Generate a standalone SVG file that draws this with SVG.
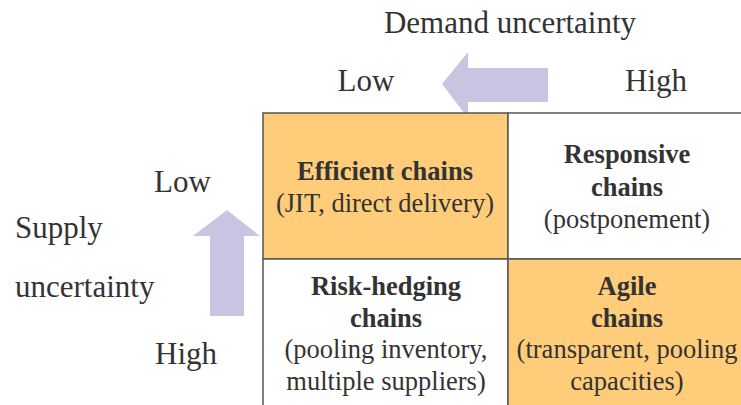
<svg xmlns="http://www.w3.org/2000/svg" width="741" height="405" viewBox="0 0 741 405">
<style>
text{font-family:"Liberation Serif","Times New Roman",serif;fill:#333;}
.ax{font-size:31px;}
.t{font-size:26.5px;text-anchor:middle;}
.b{font-weight:bold;}
.cell{stroke:#555;stroke-width:1.5;}
.arrow{fill:#C8C5E2;}
</style>
<rect width="741" height="405" fill="#fff"/>
<g id="axes">
<text class="ax" x="510" y="33" text-anchor="middle">Demand uncertainty</text>
<text class="ax" x="366" y="91" text-anchor="middle">Low</text>
<text class="ax" x="656" y="91" text-anchor="middle">High</text>
<text class="ax" x="154" y="192">Low</text>
<text class="ax" x="15" y="238">Supply</text>
<text class="ax" x="15" y="297">uncertainty</text>
<text class="ax" x="155" y="364">High</text>
</g>
<g id="connectors">
<polygon class="arrow" points="548,68 468,68 468,52 442,84 468,118 468,102 548,102"/>
<polygon class="arrow" points="210,316 210,236 193,236 227,210 260,236 244,236 244,316"/>
</g>
<g id="efficient">
<rect class="cell" x="263" y="113" width="245" height="146" fill="#FFCC7A"/>
<text class="t b" x="385" y="180">Efficient chains</text>
<text class="t" x="385" y="212">(JIT, direct delivery)</text>
</g>
<g id="responsive">
<rect class="cell" x="508" y="113" width="240" height="146" fill="#fff"/>
<text class="t b" x="627" y="163">Responsive</text>
<text class="t b" x="627" y="196">chains</text>
<text class="t" x="627" y="228">(postponement)</text>
</g>
<g id="riskhedging">
<rect class="cell" x="263" y="259" width="245" height="160" fill="#fff"/>
<text class="t b" x="386" y="295">Risk-hedging</text>
<text class="t b" x="386" y="327">chains</text>
<text class="t" x="386" y="358">(pooling inventory,</text>
<text class="t" x="386" y="390">multiple suppliers)</text>
</g>
<g id="agile">
<rect class="cell" x="508" y="259" width="240" height="160" fill="#FFCC7A"/>
<text class="t b" x="627" y="295">Agile</text>
<text class="t b" x="627" y="327">chains</text>
<text class="t" x="627" y="358">(transparent, pooling</text>
<text class="t" x="627" y="390">capacities)</text>
</g>
</svg>
